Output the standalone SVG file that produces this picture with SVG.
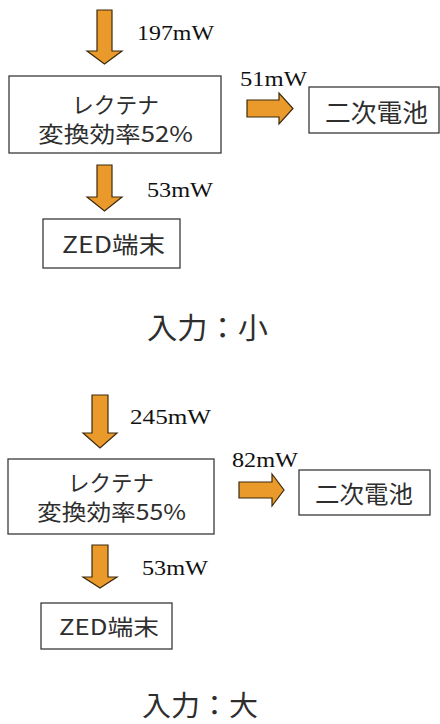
<svg xmlns="http://www.w3.org/2000/svg" width="440" height="724" viewBox="0 0 440 724">
<style>
.box{fill:#fff;stroke:#3a3a3a;stroke-width:1.3}
.arr{fill:#E99A2B;stroke:#3d2a0e;stroke-width:1.2;stroke-linejoin:miter}
.val{font-family:"Liberation Serif","Times New Roman",serif;font-size:21.5px;fill:#111}
.jp{font-family:"Noto Sans CJK JP","Noto Sans",sans-serif;font-weight:400;fill:#2e2e2e}
</style>
<rect width="440" height="724" fill="#fff"/>
<g id="connectors">
<polygon class="arr" points="97,10 112,10 112,51 122,51 104.5,64 87,51 97,51"/>
<polygon class="arr" points="247,100 279,100 279,93 293,108.5 279,124 279,117 247,117"/>
<polygon class="arr" points="97,165 112,165 112,197 122,197 104.5,211 87,197 97,197"/>
<polygon class="arr" points="92,395 108,395 108,433 117,433 100,448 83,433 92,433"/>
<polygon class="arr" points="239,482 272,482 272,474 284,490 272,506 272,498 239,498"/>
<polygon class="arr" points="92,545 108,545 108,577 117,577 100,588 83,577 92,577"/>
<text class="val" x="137" y="40" textLength="77" lengthAdjust="spacingAndGlyphs">197mW</text>
<text class="val" x="240" y="86" textLength="67" lengthAdjust="spacingAndGlyphs">51mW</text>
<text class="val" x="147" y="197" textLength="66" lengthAdjust="spacingAndGlyphs">53mW</text>
<text class="val" x="130" y="424" textLength="81" lengthAdjust="spacingAndGlyphs">245mW</text>
<text class="val" x="232" y="467" textLength="66" lengthAdjust="spacingAndGlyphs">82mW</text>
<text class="val" x="142" y="575" textLength="66" lengthAdjust="spacingAndGlyphs">53mW</text>
</g>
<g id="rectenna1">
<rect class="box" x="9" y="76" width="212" height="77"/>
<text class="jp" x="72" y="113" font-size="22" textLength="87" lengthAdjust="spacingAndGlyphs">レクテナ</text>
<text class="jp" x="38" y="142" font-size="22" textLength="155" lengthAdjust="spacingAndGlyphs">変換効率52%</text>
</g>
<g id="battery1">
<rect class="box" x="309" y="87" width="130" height="46"/>
<text class="jp" x="325" y="122" font-size="25" textLength="103" lengthAdjust="spacingAndGlyphs">二次電池</text>
</g>
<g id="zed1">
<rect class="box" x="43" y="219" width="137" height="49"/>
<text class="jp" x="62" y="253" font-size="23" textLength="103" lengthAdjust="spacingAndGlyphs">ZED端末</text>
</g>
<g id="caption1">
<text class="jp" x="147" y="339" font-size="29" textLength="121" lengthAdjust="spacingAndGlyphs">入力：小</text>
</g>
<g id="rectenna2">
<rect class="box" x="8" y="459" width="206" height="75"/>
<text class="jp" x="68" y="491" font-size="22" textLength="86" lengthAdjust="spacingAndGlyphs">レクテナ</text>
<text class="jp" x="37" y="520" font-size="22" textLength="149" lengthAdjust="spacingAndGlyphs">変換効率55%</text>
</g>
<g id="battery2">
<rect class="box" x="299" y="470" width="131" height="45"/>
<text class="jp" x="315" y="503" font-size="24" textLength="98" lengthAdjust="spacingAndGlyphs">二次電池</text>
</g>
<g id="zed2">
<rect class="box" x="41" y="603" width="131" height="46"/>
<text class="jp" x="59" y="635" font-size="22" textLength="100" lengthAdjust="spacingAndGlyphs">ZED端末</text>
</g>
<g id="caption2">
<text class="jp" x="142" y="716" font-size="28" textLength="116" lengthAdjust="spacingAndGlyphs">入力：大</text>
</g>
</svg>
